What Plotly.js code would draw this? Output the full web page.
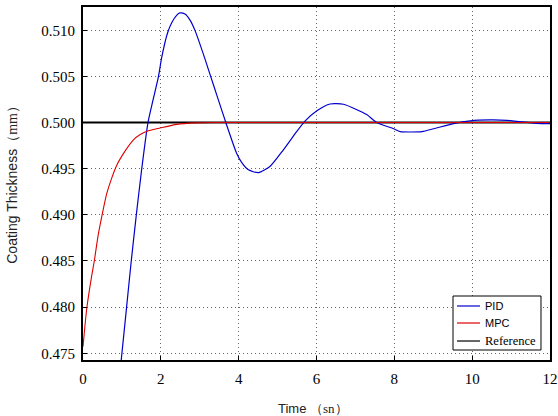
<!DOCTYPE html>
<html>
<head>
<meta charset="utf-8">
<script src="https://cdn.plot.ly/plotly-3.0.1.min.js"></script>
<style>
  html, body { margin: 0; padding: 0; background: #fff; }
  #chart { width: 558px; height: 416px; }
</style>
</head>
<body>
<div id="chart"></div>
<script>
// Coating thickness step response: PID vs MPC against the 0.500 mm setpoint

// PID response (time in s, thickness in mm)
const pidTime = [0, 0.5, 0.8, 1.00, 1.12, 1.24, 1.37, 1.51, 1.67, 1.94, 2.02, 2.17, 2.28, 2.41, 2.49, 2.62, 2.75, 2.88,
  3.14, 3.28, 3.44, 3.67, 3.95, 4.08, 4.25, 4.51, 4.81, 5.15, 5.49, 5.71, 6.01, 6.35,
  6.69, 7.04, 7.29, 7.55, 7.98, 8.15, 8.71, 9.01, 9.52, 9.95, 10.46, 10.89, 11.19, 11.66, 12.0];
const pidValue = [0.443, 0.456, 0.467, 0.4750, 0.4800, 0.4850, 0.4900, 0.4950, 0.5000, 0.5050, 0.5070, 0.50968, 0.51081, 0.51164, 0.51188, 0.51175, 0.5111, 0.50996,
  0.50682, 0.5050, 0.50295, 0.5000, 0.49665, 0.49566, 0.49488, 0.49457, 0.49527, 0.49705, 0.49902, 0.50018, 0.50128, 0.50201,
  0.50198, 0.50139, 0.50086, 0.5000, 0.49933, 0.49902, 0.49902, 0.49933, 0.49988, 0.50018, 0.50028, 0.50024, 0.50010, 0.49992, 0.49988];

// MPC response
const mpcTime = [0, 0.095, 0.22, 0.29, 0.39, 0.52, 0.61, 0.74, 0.87, 1.08, 1.29, 1.47, 1.68, 1.98, 2.41, 2.88, 3.5, 12.0];
const mpcValue = [0.4757, 0.4798, 0.4833, 0.4850, 0.4878, 0.4906, 0.4923, 0.4940, 0.4954, 0.4969, 0.4981, 0.4987, 0.4991, 0.4994, 0.4998, 0.49996, 0.5000, 0.5000];

// Setpoint
const refTime = [0, 12];
const refValue = [0.5, 0.5];

// Legend entries, top to bottom
const legendNames = ['PID', 'MPC', 'Reference'];
const legendColors = ['#0000cc', '#dd0000', '#000000'];

const serif = '"Liberation Serif", "Times New Roman", serif';
const sans = '"Liberation Sans", Arial, sans-serif';

const traces = [
  {
    x: refTime, y: refValue, type: 'scatter', mode: 'lines', name: legendNames[2],
    line: { color: legendColors[2], width: 2 }
  },
  {
    x: pidTime, y: pidValue, type: 'scatter', mode: 'lines', name: legendNames[0],
    line: { color: legendColors[0], width: 1.2, shape: 'spline', smoothing: 0.6 }
  },
  {
    x: mpcTime, y: mpcValue, type: 'scatter', mode: 'lines', name: legendNames[1],
    line: { color: legendColors[1], width: 1.1, shape: 'spline', smoothing: 0.6 }
  }
];

const axisCommon = {
  showline: true, linecolor: '#000', linewidth: 2, mirror: true,
  showgrid: true, gridcolor: '#666', gridwidth: 1, griddash: '1px,3px',
  zeroline: false, ticks: 'inside', ticklen: 4, tickcolor: '#000',
  tickfont: { family: serif, size: 15, color: '#000' }
};

// Boxed legend in the lower right corner of the plot area (paper coordinates)
const box = { x0: 0.7923, x1: 0.9807, y0: 0.0283, y1: 0.1813 };
const rowY = [0.1530, 0.1048, 0.0538];
const lineX = [0.8009, 0.8501];
const textX = 0.8565;

const shapes = [{
  type: 'rect', xref: 'paper', yref: 'paper',
  x0: box.x0, x1: box.x1, y0: box.y0, y1: box.y1,
  line: { color: '#000', width: 1 }, fillcolor: '#fff', layer: 'above'
}];
const annotations = [];
legendNames.forEach((name, i) => {
  shapes.push({
    type: 'line', xref: 'paper', yref: 'paper',
    x0: lineX[0], x1: lineX[1], y0: rowY[i], y1: rowY[i],
    line: { color: legendColors[i], width: 1.2 }, layer: 'above'
  });
  annotations.push({
    text: name, xref: 'paper', yref: 'paper', x: textX, y: rowY[i],
    xanchor: 'left', yanchor: 'middle', showarrow: false,
    font: name === 'Reference'
      ? { family: serif, size: 12.5, color: '#000' }
      : { family: sans, size: 11, color: '#000' }
  });
});

annotations.push(
  {
    text: 'Time <span style="font-family:Liberation Serif">（sn）</span>',
    xref: 'paper', yref: 'paper', x: 0.4925, y: -0.136,
    xanchor: 'center', yanchor: 'middle', showarrow: false,
    font: { family: sans, size: 13, color: '#222' }
  },
  {
    text: 'Coating Thickness<span style="font-family:Liberation Serif">（mm）</span>',
    xref: 'paper', yref: 'paper', x: -0.152, y: 0.505,
    xanchor: 'center', yanchor: 'middle', showarrow: false, textangle: -90,
    font: { family: sans, size: 14, color: '#222' }
  }
);

const layout = {
  width: 558, height: 416,
  margin: { l: 83, r: 8, t: 7, b: 56 },
  paper_bgcolor: '#fff', plot_bgcolor: '#fff',
  showlegend: false,
  xaxis: Object.assign({}, axisCommon, {
    range: [0, 12], tick0: 0, dtick: 2, ticklabelstandoff: 4
  }),
  yaxis: Object.assign({}, axisCommon, {
    range: [0.47427, 0.51252], tick0: 0.475, dtick: 0.005, tickformat: '.3f',
    ticklabelstandoff: 3
  }),
  shapes: shapes,
  annotations: annotations
};

Plotly.newPlot('chart', traces, layout, { displayModeBar: false, staticPlot: true });
</script>
</body>
</html>
